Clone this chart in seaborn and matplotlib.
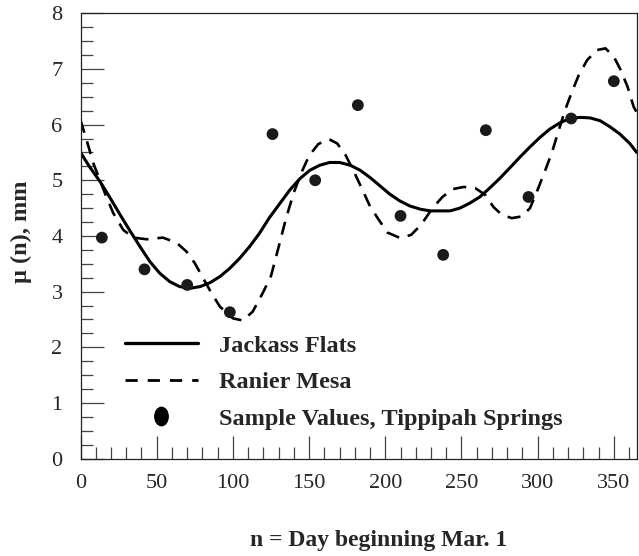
import matplotlib
matplotlib.use("Agg")
import matplotlib.pyplot as plt
import seaborn as sns
import pandas as pd
from matplotlib.lines import Line2D
from matplotlib.path import Path
from matplotlib.transforms import Affine2D
from matplotlib.ticker import MultipleLocator

# Jackass Flats (solid curve)
jack_day = [0, 6, 13, 19.5, 26, 32.5, 39, 45.5, 52, 58.5, 65, 72, 78.5, 85, 91.5, 98,
            104.5, 111, 117.5, 124, 131, 137.5, 144, 150.5, 157, 163.5, 170, 177, 183.5,
            190, 196.5, 203, 209.5, 216, 223, 229.5, 236, 242.5, 249, 255.5, 262, 268.5,
            275, 282, 288.5, 295, 301.5, 308, 314.5, 321, 328, 334.5, 341, 347.5, 354,
            360.5, 365]
jack_mu = [5.50, 5.24, 4.97, 4.68, 4.38, 4.09, 3.81, 3.54, 3.33, 3.18, 3.09, 3.06, 3.09,
           3.16, 3.27, 3.42, 3.60, 3.81, 4.05, 4.33, 4.59, 4.83, 5.03, 5.18, 5.27, 5.32,
           5.32, 5.27, 5.18, 5.05, 4.90, 4.75, 4.63, 4.54, 4.48, 4.45, 4.45, 4.45, 4.50,
           4.59, 4.70, 4.86, 5.03, 5.23, 5.42, 5.60, 5.77, 5.92, 6.03, 6.11, 6.13, 6.12,
           6.07, 5.96, 5.83, 5.66, 5.50]

# Ranier Mesa (dashed curve)
mesa_day = [0, 4, 8.5, 13, 17, 21.5, 28, 34.5, 43.5, 54, 63, 69.5, 75, 80.5, 86, 91.5,
            100, 106.5, 113, 119.5, 125, 130, 135, 140, 145, 150, 156, 163, 168.5, 174,
            179.5, 185, 189.5, 195, 201.5, 210, 217, 223.5, 231, 237.5, 244, 251.5, 259,
            265.5, 271, 276.5, 283, 289.5, 295, 300, 305, 309.5, 313.5, 318, 322.5, 327,
            332.5, 339, 344.5, 350, 354.5, 359, 363, 365]
mesa_mu = [6.08, 5.72, 5.30, 4.98, 4.70, 4.41, 4.11, 3.97, 3.94, 3.97, 3.88, 3.72, 3.51,
           3.24, 2.97, 2.73, 2.52, 2.48, 2.64, 2.97, 3.28, 3.80, 4.33, 4.78, 5.14, 5.44,
           5.65, 5.74, 5.66, 5.45, 5.15, 4.83, 4.56, 4.32, 4.06, 3.96, 4.02, 4.20, 4.50,
           4.70, 4.84, 4.88, 4.86, 4.74, 4.52, 4.38, 4.32, 4.35, 4.50, 4.83, 5.18, 5.51,
           5.87, 6.26, 6.59, 6.89, 7.16, 7.34, 7.37, 7.22, 6.98, 6.68, 6.32, 6.22]

# Sample values, Tippipah Springs
tipp_day = [14, 42, 70, 98, 126, 154, 182, 210, 238, 266, 294, 322, 350]
tipp_mu = [3.97, 3.40, 3.12, 2.63, 5.83, 5.00, 6.35, 4.36, 3.66, 5.90, 4.70, 6.11, 6.78]

labels = ["Jackass Flats", "Ranier Mesa", "Sample Values, Tippipah Springs"]

jack_df = pd.DataFrame({"day": jack_day, "mu": jack_mu})
mesa_df = pd.DataFrame({"day": mesa_day, "mu": mesa_mu})
tipp_df = pd.DataFrame({"day": tipp_day, "mu": tipp_mu})

sns.set_style("ticks")
plt.rcParams["font.family"] = ["Liberation Serif", "DejaVu Serif"]

fig = plt.figure(figsize=(6.39, 5.56), dpi=100)
ax = fig.add_axes([0.1260, 0.1752, 0.8704, 0.8009])

sns.lineplot(data=jack_df, x="day", y="mu", ax=ax, color="black", lw=2.2,
             sort=False, estimator=None)
sns.lineplot(data=mesa_df, x="day", y="mu", ax=ax, color="black", lw=1.9,
             sort=False, estimator=None)
ax.lines[-1].set_dashes([5.0, 3.4])
sns.scatterplot(data=tipp_df, x="day", y="mu", ax=ax, color="#1a1a1a", s=72,
                edgecolor="none", zorder=5)

ax.set_xlim(0, 365)
ax.set_ylim(0, 8)
ax.xaxis.set_major_locator(MultipleLocator(50))
ax.xaxis.set_minor_locator(MultipleLocator(10))
ax.yaxis.set_major_locator(MultipleLocator(1))
ax.yaxis.set_minor_locator(MultipleLocator(0.25))
ax.tick_params(which="both", direction="in", color="#444444", width=0.9,
               top=False, right=False, labelsize=16)
ax.tick_params(which="major", length=16.5)
ax.tick_params(which="minor", length=8.4)
ax.tick_params(axis="x", which="major", pad=11)
ax.tick_params(axis="y", which="major", pad=13)
for sp in ax.spines.values():
    sp.set_linewidth(0.9)
    sp.set_color("#222222")

ax.set_xlabel("n = Day beginning Mar. 1", fontsize=17, fontweight="bold")
ax.set_ylabel("μ (n), mm", fontsize=17.5, fontweight="bold")
ax.xaxis.set_label_coords(0.536, -0.160)
ax.yaxis.set_label_coords(-0.0872, 0.51)

oval = Path.unit_circle().transformed(Affine2D().scale(0.73, 1.0))
handles = [
    Line2D([], [], color="black", lw=2.4),
    Line2D([], [], color="black", lw=2.0, dashes=[4.4, 3.6]),
    Line2D([], [], ls="none", marker=oval, markersize=13.2, color="black"),
]
ax.legend(handles, labels, loc="upper left", bbox_to_anchor=(0.080, 0.278),
          frameon=False, borderpad=0, borderaxespad=0, handlelength=3.0,
          handletextpad=0.85, labelspacing=0.6,
          prop={"family": ["Liberation Serif"], "weight": "bold", "size": 17.5})

fig.savefig("out.png", dpi=100)
